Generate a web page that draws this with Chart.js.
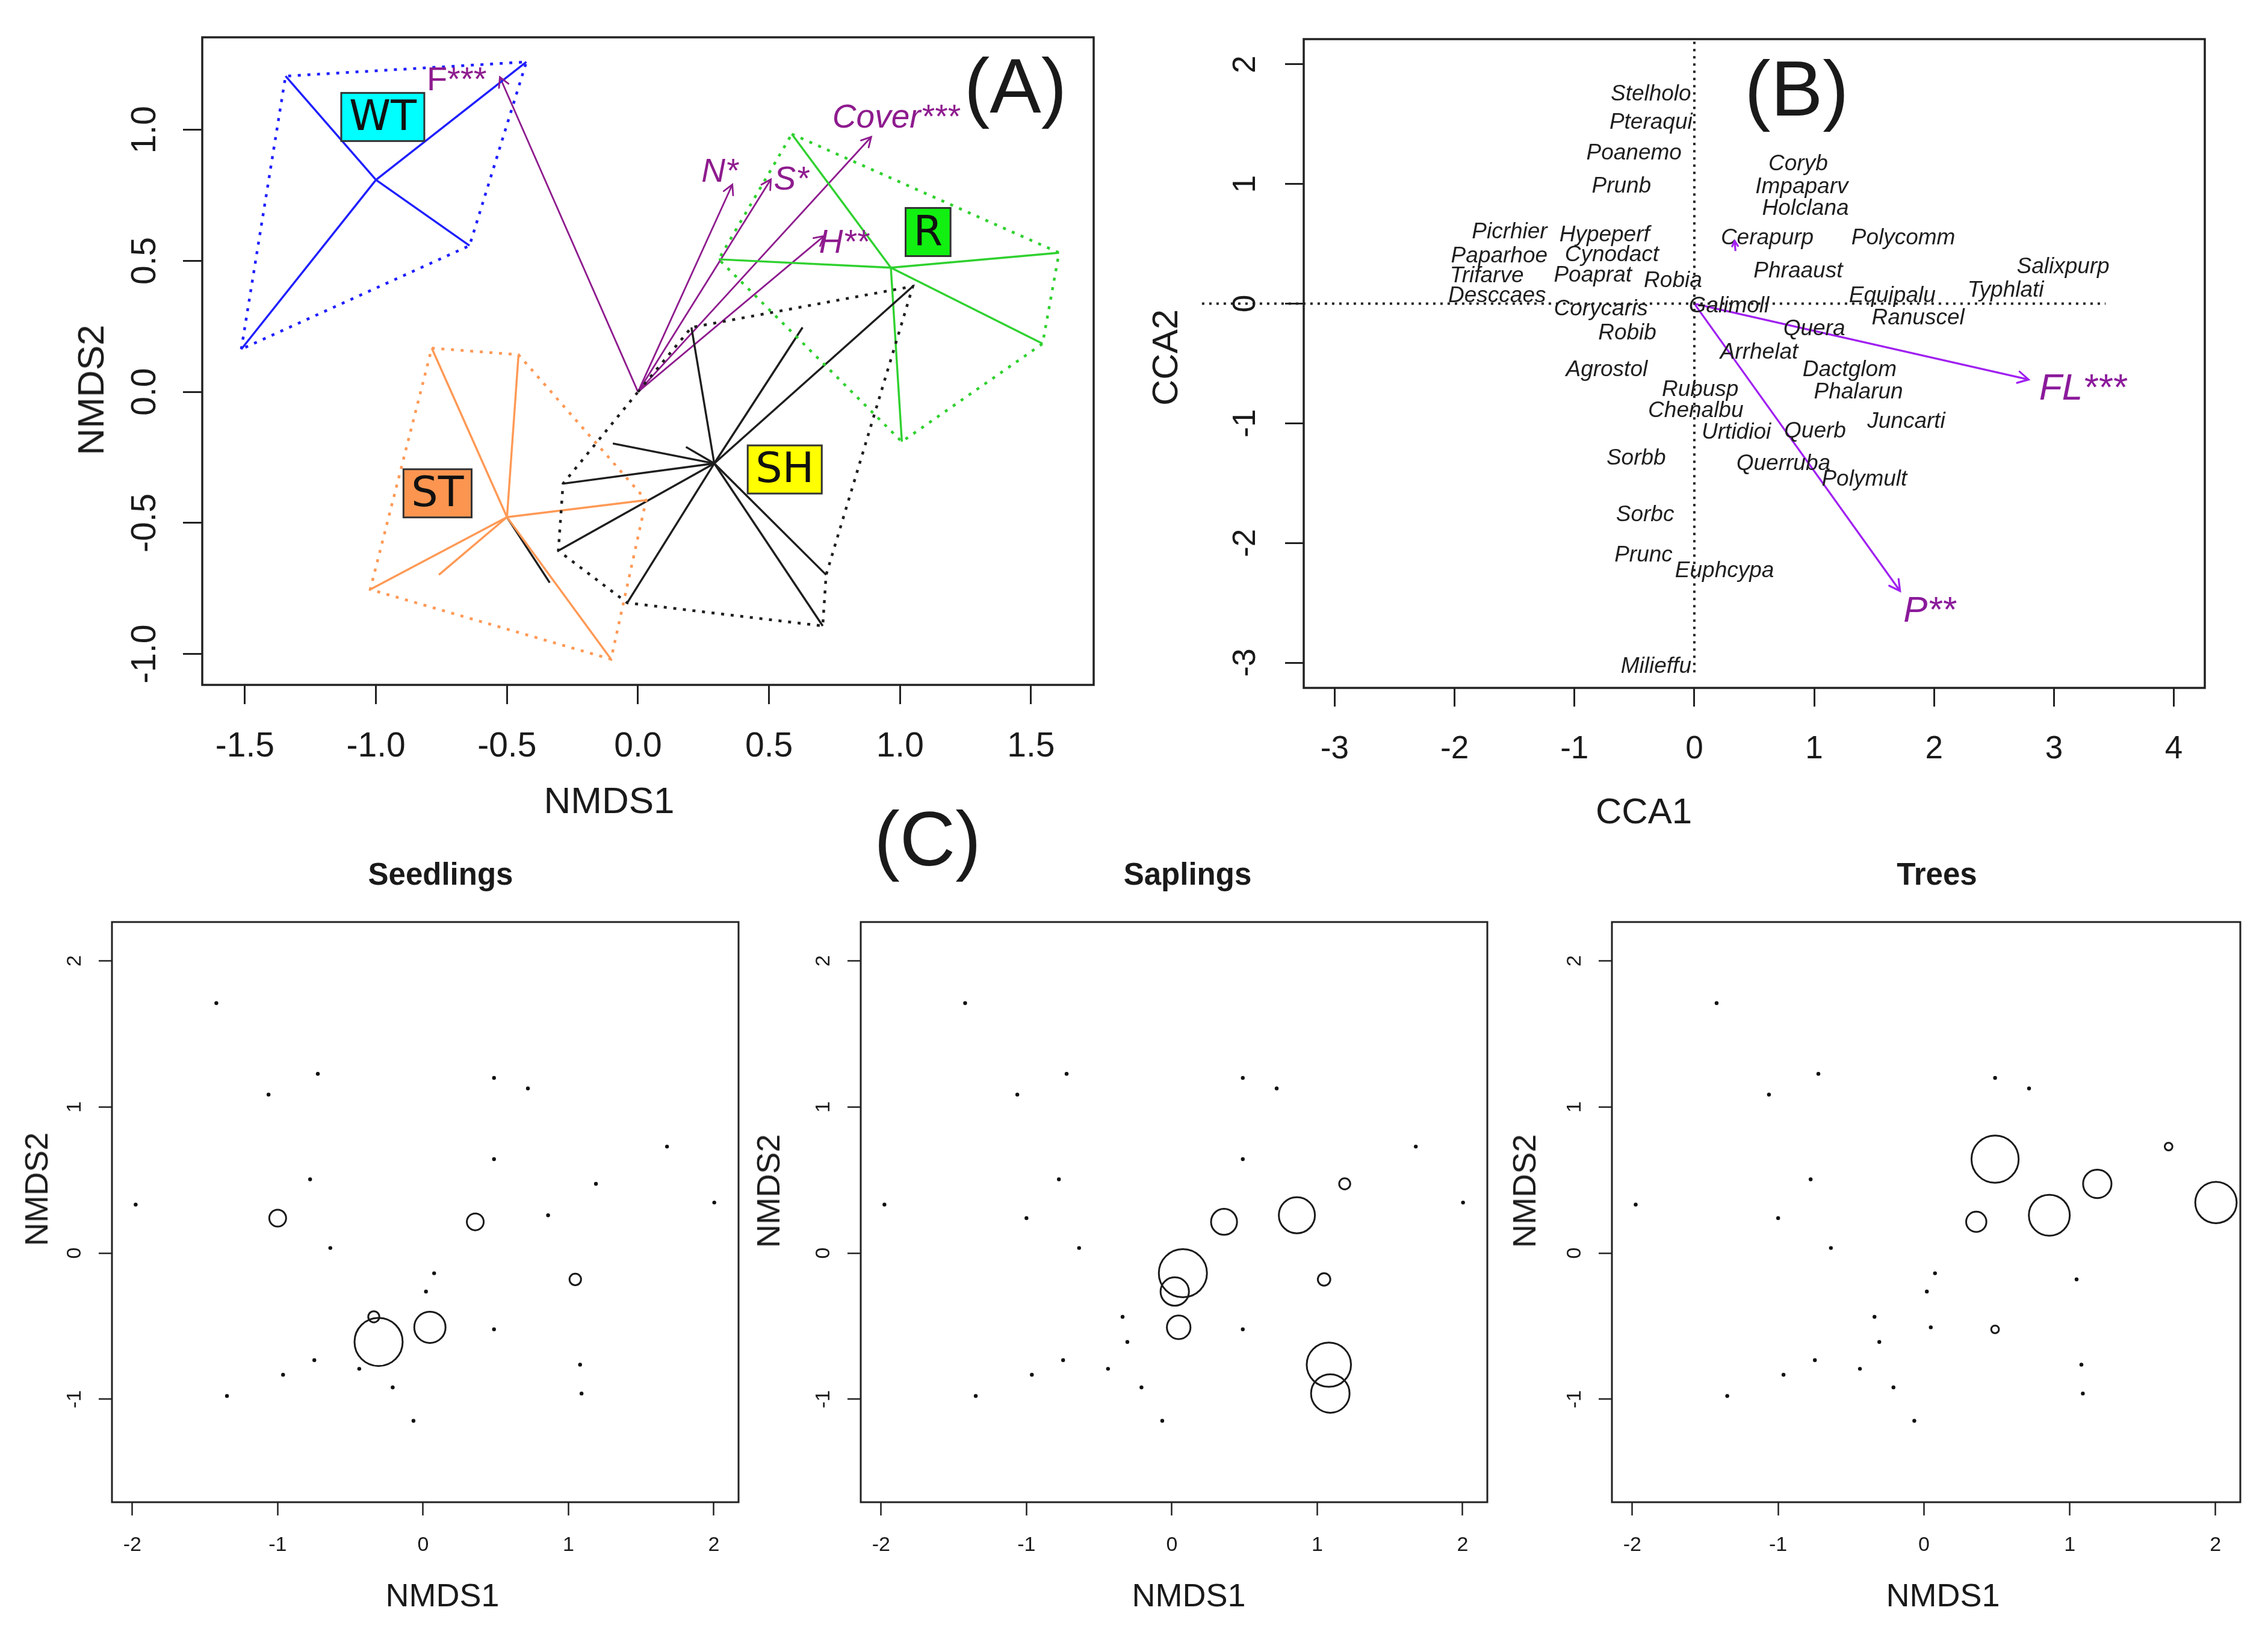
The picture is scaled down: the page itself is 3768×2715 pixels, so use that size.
<!DOCTYPE html>
<html>
<head>
<meta charset="utf-8">
<script src="https://cdn.jsdelivr.net/npm/chart.js@4.4.1/dist/chart.umd.min.js"></script>
<style>
  html, body { margin: 0; padding: 0; background: #fff; }
  body { width: 3768px; height: 2715px; position: relative; overflow: hidden;
         font-family: "Liberation Sans", Arial, sans-serif; color: #1a1a1a; }
  canvas { position: absolute; }
  .t { position: absolute; transform: translate(-50%, -50%); white-space: nowrap; line-height: 1; }
  .v { transform: translate(-50%, -50%) rotate(-90deg); }
  .b { font-weight: bold; }
</style>
</head>
<body>
<canvas id="chartA"></canvas>
<canvas id="chartB"></canvas>
<canvas id="chartSeed"></canvas>
<canvas id="chartSap"></canvas>
<canvas id="chartTree"></canvas>

<div class="t" style="left:1687px;top:143px;font-size:128px">(A)</div>
<div class="t" style="left:2985px;top:147px;font-size:130px">(B)</div>
<div class="t" style="left:1541px;top:1394px;font-size:128px">(C)</div>

<div class="t" style="left:1012px;top:1330px;font-size:62px">NMDS1</div>
<div class="t v" style="left:151px;top:648px;font-size:62px">NMDS2</div>
<div class="t" style="left:2731px;top:1348px;font-size:60px">CCA1</div>
<div class="t v" style="left:1936px;top:594px;font-size:60px">CCA2</div>

<div class="t b" style="left:732px;top:1452px;font-size:51px">Seedlings</div>
<div class="t b" style="left:1973px;top:1452px;font-size:51px">Saplings</div>
<div class="t b" style="left:3218px;top:1452px;font-size:51px">Trees</div>
<div class="t" style="left:735px;top:2650px;font-size:54px">NMDS1</div>
<div class="t" style="left:1975px;top:2650px;font-size:54px">NMDS1</div>
<div class="t" style="left:3228px;top:2650px;font-size:54px">NMDS1</div>
<div class="t v" style="left:60px;top:1976px;font-size:54px">NMDS2</div>
<div class="t v" style="left:1276px;top:1979px;font-size:54px">NMDS2</div>
<div class="t v" style="left:2532px;top:1979px;font-size:54px">NMDS2</div>

<script>
// ---------- (A) NMDS, sites grouped ----------
const groupNames = ["WT", "ST", "SH", "R"];
const centreX = [-1.000, -0.500, 0.291, 0.965];
const centreY = [0.809, -0.478, -0.273, 0.474];

const wtX = [-1.345, -0.426, -0.643, -1.514];
const wtY = [1.205, 1.259, 0.558, 0.163];
const stX = [-0.787, -0.456, 0.031, -0.103, -1.022, -0.760];
const stY = [0.167, 0.142, -0.413, -1.020, -0.754, -0.698];
const stBlackX = [-0.337];   // one ST site drawn in black
const stBlackY = [-0.728];
const shX = [0.204, 0.628, 1.049, -0.096, 0.183, -0.286, -0.304, -0.041, 0.705, 0.718];
const shY = [0.246, 0.246, 0.403, -0.197, -0.210, -0.350, -0.606, -0.805, -0.893, -0.698];
const rX = [0.587, 1.607, 1.544, 1.007, 0.308];
const rY = [0.984, 0.531, 0.184, -0.190, 0.506];

const wtHullX = [-1.514, -1.345, -0.426, -0.643];
const wtHullY = [0.163, 1.205, 1.259, 0.558];
const stHullX = [-0.787, -0.456, 0.031, -0.103, -1.022];
const stHullY = [0.167, 0.142, -0.413, -1.020, -0.754];
const shHullX = [0.000, 0.204, 1.049, 0.718, 0.705, -0.041, -0.304, -0.286];
const shHullY = [0.000, 0.246, 0.403, -0.698, -0.893, -0.805, -0.606, -0.350];
const rHullX = [0.587, 1.607, 1.544, 1.007, 0.308];
const rHullY = [0.984, 0.531, 0.184, -0.190, 0.506];

const groupLabX = [-0.974, -0.765, 0.560, 1.107];
const groupLabY = [1.049, -0.387, -0.296, 0.610];

const envNames = ["F***", "N*", "S*", "Cover***", "H**"];
const envX = [-0.527, 0.360, 0.507, 0.890, 0.710];
const envY = [1.201, 0.791, 0.811, 0.973, 0.595];
const envLabX = [-0.692, 0.312, 0.585, 0.984, 0.786];
const envLabY = [1.186, 0.838, 0.807, 1.043, 0.565];

const ticksAx = [-1.5, -1.0, -0.5, 0.0, 0.5, 1.0, 1.5];
const ticksAy = [-1.0, -0.5, 0.0, 0.5, 1.0];

// ---------- (B) CCA species scores ----------
const species = ["Stelholo","Pteraqui","Poanemo","Prunb","Coryb","Impaparv","Holclana","Picrhier",
  "Hypeperf","Cerapurp","Polycomm","Paparhoe","Cynodact","Salixpurp","Trifarve","Poaprat","Robia",
  "Phraaust","Typhlati","Desccaes","Equipalu","Galimoll","Corycaris","Ranuscel","Quera","Robib",
  "Arrhelat","Agrostol","Dactglom","Rubusp","Phalarun","Chenalbu","Juncarti","Urtidioi","Querb",
  "Sorbb","Querruba","Polymult","Sorbc","Prunc","Euphcypa","Milieffu"];
const speciesX = [-0.362,-0.362,-0.503,-0.608,0.866,0.896,0.927,-1.541,-0.749,0.608,1.743,-1.627,
  -0.688,3.076,-1.731,-0.847,-0.178,0.866,2.597,-1.645,1.651,0.289,-0.780,1.866,1.000,-0.559,
  0.540,-0.731,1.295,0.049,1.369,0.012,1.768,0.350,1.007,-0.485,0.743,1.418,-0.411,-0.424,0.252,-0.319];
const speciesY = [1.752,1.514,1.258,0.979,1.168,0.975,0.795,0.597,0.571,0.548,0.548,0.395,0.409,
  0.305,0.229,0.234,0.193,0.270,0.112,0.067,0.067,-0.022,-0.045,-0.121,-0.211,-0.247,-0.409,
  -0.553,-0.553,-0.719,-0.741,-0.898,-0.988,-1.078,-1.069,-1.294,-1.339,-1.469,-1.765,-2.102,-2.233,-3.032];

const ccaNames = ["FL***", "P**"];
const ccaX = [2.788, 1.716];
const ccaY = [-0.634, -2.401];
const ccaLabX = [3.240, 1.961];
const ccaLabY = [-0.716, -2.572];
const ccaSmallX = [0.343, 0.336];   // tiny arrow beside Cerapurp
const ccaSmallY = [0.440, 0.525];

const ticksBx = [-3, -2, -1, 0, 1, 2, 3, 4];
const ticksBy = [-3, -2, -1, 0, 1, 2];

// ---------- (C) site scores and abundance ----------
const siteX = [-1.422,-0.724,-1.063,0.488,0.721,1.678,0.488,-0.777,1.189,-1.977,2.003,0.860,-1.000,
  0.359,-0.638,1.047,0.076,0.020,-0.339,-0.306,0.047,0.488,-0.748,-0.963,-0.439,1.080,-1.349,-0.209,1.090,-0.066];
const siteY = [1.711,1.227,1.085,1.199,1.127,0.729,0.643,0.505,0.474,0.332,0.346,0.259,0.239,
  0.214,0.035,-0.180,-0.138,-0.263,-0.436,-0.608,-0.508,-0.522,-0.733,-0.833,-0.792,-0.764,-0.978,-0.919,-0.961,-1.148];
const seedlings = [0,0,0,0,0,0,0,0,0,0,0,0,3.5,3.5,0,2.4,0,0,2.3,10,6.5,0,0,0,0,0,0,0,0,0];
const saplings  = [0,0,0,0,0,0,0,0,2.3,0,0,7.5,0,5.4,0,2.6,10,5.9,0,0,4.9,0,0,0,0,9.2,0,0,8,0];
const trees     = [0,0,0,0,0,1.6,9.8,0,5.9,0,8.6,8.5,0,4.2,0,0,0,0,0,0,0,1.6,0,0,0,0,0,0,0,0];
const ticksCx = [-2, -1, 0, 1, 2];
const ticksCy = [-1, 0, 1, 2];

// ---------- helpers ----------
const M = 220;
const purpleA = "#8e1b8e", purpleB = "#a020f0", purpleText = "#8b1a9b";
const lineCol = ["#1f1fff", "#ff9955", "#1e1e1e", "#2fd12f"];
const boxFill = ["#00ffff", "#fb9550", "#ffff00", "#11f011"];

function place(id, box) {
  const c = document.getElementById(id);
  const w = box[2] - box[0] + 2 * M, h = box[3] - box[1] + 2 * M;
  c.width = w; c.height = h;
  c.style.left = (box[0] - M) + "px"; c.style.top = (box[1] - M) + "px";
  c.style.width = w + "px"; c.style.height = h + "px";
  return c;
}

function pts(xs, ys) { return xs.map((v, i) => ({ x: v, y: ys[i] })); }

function segment(x0, y0, x1, y1, colour, width) {
  return { data: [{ x: x0, y: y0 }, { x: x1, y: y1 }], showLine: true, borderColor: colour,
           borderWidth: width, pointRadius: 0, pointHoverRadius: 0 };
}

function rScales(xr, yr, xt, yt, len, w) {
  const base = ticks => ({
    type: "linear", bounds: "data",
    ticks: { display: false },
    grid: { drawOnChartArea: false, drawTicks: true, tickLength: len, tickWidth: w,
            tickColor: "#222", color: "#222" },
    border: { display: false },
    afterBuildTicks: s => { s.ticks = ticks.map(v => ({ value: v })); }
  });
  return {
    x: Object.assign(base(xt), { position: "bottom", min: xr[0], max: xr[1], afterFit: s => { s.height = M; } }),
    y: Object.assign(base(yt), { position: "left", min: yr[0], max: yr[1], afterFit: s => { s.width = M; } })
  };
}

// R style box and tick labels (y labels parallel to the axis)
function frame(cfg) {
  return {
    id: "rframe",
    afterDraw(chart) {
      const { ctx, chartArea: a, scales: { x, y } } = chart;
      ctx.save();
      ctx.strokeStyle = "#222"; ctx.lineWidth = cfg.box;
      ctx.strokeRect(a.left, a.top, a.right - a.left, a.bottom - a.top);
      ctx.fillStyle = "#1a1a1a"; ctx.font = cfg.font;
      ctx.textAlign = "center"; ctx.textBaseline = "middle";
      x.ticks.forEach(t => ctx.fillText(t.value.toFixed(cfg.dp), x.getPixelForValue(t.value), a.bottom + cfg.xGap));
      y.ticks.forEach(t => {
        ctx.save();
        ctx.translate(a.left - cfg.yGap, y.getPixelForValue(t.value));
        ctx.rotate(-Math.PI / 2);
        ctx.fillText(t.value.toFixed(cfg.dp), 0, 0);
        ctx.restore();
      });
      ctx.restore();
    }
  };
}

// text labels and arrow heads taken from the dataset elements
const marks = {
  id: "marks",
  afterDatasetsDraw(chart) {
    const ctx = chart.ctx;
    chart.data.datasets.forEach((ds, i) => {
      const el = chart.getDatasetMeta(i).data;
      ctx.save();
      if (ds.arrowHead) {
        const p0 = el[el.length - 2], p1 = el[el.length - 1];
        const ang = Math.atan2(p1.y - p0.y, p1.x - p0.x), L = ds.arrowHead, h = 0.5;
        ctx.strokeStyle = ds.borderColor; ctx.lineWidth = ds.borderWidth; ctx.lineCap = "round";
        ctx.beginPath();
        ctx.moveTo(p1.x - L * Math.cos(ang - h), p1.y - L * Math.sin(ang - h));
        ctx.lineTo(p1.x, p1.y);
        ctx.lineTo(p1.x - L * Math.cos(ang + h), p1.y - L * Math.sin(ang + h));
        ctx.stroke();
      }
      if (ds.labelText) {
        ctx.textAlign = "center"; ctx.textBaseline = "middle";
        el.forEach((p, j) => {
          const txt = ds.labelText[j];
          ctx.font = Array.isArray(ds.labelFont) ? ds.labelFont[j] : ds.labelFont;
          if (ds.labelBox) {
            const w = ctx.measureText(txt).width + 26, hgt = 80;
            ctx.fillStyle = ds.labelBox[j];
            ctx.fillRect(p.x - w / 2, p.y - hgt / 2, w, hgt);
            ctx.strokeStyle = "#333"; ctx.lineWidth = 3;
            ctx.strokeRect(p.x - w / 2, p.y - hgt / 2, w, hgt);
          }
          ctx.fillStyle = ds.labelColor;
          ctx.fillText(txt, p.x, p.y + (ds.labelBox ? 3 : 0));
        });
      }
      ctx.restore();
    });
  }
};

function baseOptions(scales) {
  return {
    responsive: false, animation: false, devicePixelRatio: 1, events: [],
    layout: { padding: { left: 0, top: M, right: M, bottom: 0 } },
    plugins: { legend: { display: false }, tooltip: { enabled: false } },
    scales: scales
  };
}

// ---------- panel A ----------
const dsA = [];
const sitesA = [[wtX, wtY], [stX, stY], [shX, shY], [rX, rY]];
const hullsA = [[wtHullX, wtHullY], [stHullX, stHullY], [shHullX, shHullY], [rHullX, rHullY]];
groupNames.forEach((g, k) => {
  const hull = pts(hullsA[k][0], hullsA[k][1]);
  hull.push(hull[0]);
  dsA.push({ data: hull, showLine: true, borderColor: lineCol[k], borderWidth: 4.5,
             borderDash: [5, 11], pointRadius: 0, pointHoverRadius: 0 });
});
groupNames.forEach((g, k) => {
  const [sx, sy] = sitesA[k];
  sx.forEach((v, i) => dsA.push(segment(centreX[k], centreY[k], v, sy[i], lineCol[k], 3.4)));
});
stBlackX.forEach((v, i) => dsA.push(segment(centreX[1], centreY[1], v, stBlackY[i], "#1e1e1e", 3.4)));
envNames.forEach((n, i) => {
  const s = segment(0, 0, envX[i], envY[i], purpleA, 2.8);
  s.arrowHead = 18;
  dsA.push(s);
});
dsA.push({ data: pts(envLabX, envLabY), pointRadius: 0, pointHoverRadius: 0, labelText: envNames,
           labelFont: envNames.map(n => n === "F***" ? '56px "Liberation Sans"' : 'italic 55px "Liberation Sans"'),
           labelColor: purpleA });
dsA.push({ data: pts(groupLabX, groupLabY), pointRadius: 0, pointHoverRadius: 0, labelText: groupNames,
           labelFont: '70px "DejaVu Sans"', labelColor: "#111", labelBox: boxFill });

new Chart(place("chartA", [336, 62, 1817, 1138]), {
  type: "scatter",
  data: { datasets: dsA },
  options: baseOptions(rScales([-1.663, 1.739], [-1.118, 1.353], ticksAx, ticksAy, 32, 3)),
  plugins: [marks, frame({ box: 3.5, font: '57px "Liberation Sans"', dp: 1, xGap: 103, yGap: 94 })]
});

// ---------- panel B ----------
const dsB = [
  { data: [{ x: -4.107, y: 0 }, { x: 3.43, y: 0 }], showLine: true, borderColor: "#222", borderWidth: 4,
    borderDash: [4, 8], pointRadius: 0, pointHoverRadius: 0, clip: false },
  { data: [{ x: 0, y: 2.19 }, { x: 0, y: -3.10 }], showLine: true, borderColor: "#222", borderWidth: 4,
    borderDash: [4, 8], pointRadius: 0, pointHoverRadius: 0, clip: false },
  { data: pts(speciesX, speciesY), pointRadius: 0, pointHoverRadius: 0, labelText: species,
    labelFont: 'italic 37px "Liberation Sans"', labelColor: "#1e1e1e" }
];
ccaNames.forEach((n, i) => {
  const s = segment(0, 0, ccaX[i], ccaY[i], purpleB, 3.2);
  s.arrowHead = 20;
  dsB.push(s);
});
const small = segment(ccaSmallX[0], ccaSmallY[0], ccaSmallX[1], ccaSmallY[1], purpleB, 3.2);
small.arrowHead = 10;
dsB.push(small);
dsB.push({ data: pts(ccaLabX, ccaLabY), pointRadius: 0, pointHoverRadius: 0, labelText: ccaNames,
           labelFont: ['italic 62px "Liberation Sans"', 'italic 60px "Liberation Sans"'], labelColor: purpleText });

new Chart(place("chartB", [2166, 65, 3663, 1143]), {
  type: "scatter",
  data: { datasets: dsB },
  options: baseOptions(rScales([-3.258, 4.258], [-3.211, 2.211], ticksBx, ticksBy, 31, 3)),
  plugins: [marks, frame({ box: 3.5, font: '53px "Liberation Sans"', dp: 0, xGap: 102, yGap: 96 })]
});

// ---------- panel C ----------
function bubbles(abund) {
  return {
    data: pts(siteX, siteY),
    pointRadius: c => abund[c.dataIndex] > 0 ? abund[c.dataIndex] * 4 : 3.2,
    pointBackgroundColor: c => abund[c.dataIndex] > 0 ? "rgba(0,0,0,0)" : "#111",
    pointBorderColor: "#1a1a1a",
    pointBorderWidth: c => abund[c.dataIndex] > 0 ? 3 : 0,
    pointHoverRadius: 0
  };
}
const panelsC = [["chartSeed", [186, 1532, 1227, 2496], seedlings],
                 ["chartSap", [1430, 1532, 2471, 2496], saplings],
                 ["chartTree", [2678, 1532, 3722, 2496], trees]];
panelsC.forEach(([id, box, abund]) => {
  new Chart(place(id, box), {
    type: "scatter",
    data: { datasets: [bubbles(abund)] },
    options: baseOptions(rScales([-2.14, 2.17], [-1.705, 2.266], ticksCx, ticksCy, 22, 2.5)),
    plugins: [frame({ box: 3, font: '34px "Liberation Sans"', dp: 0, xGap: 72, yGap: 61 })]
  });
});
</script>
</body>
</html>
